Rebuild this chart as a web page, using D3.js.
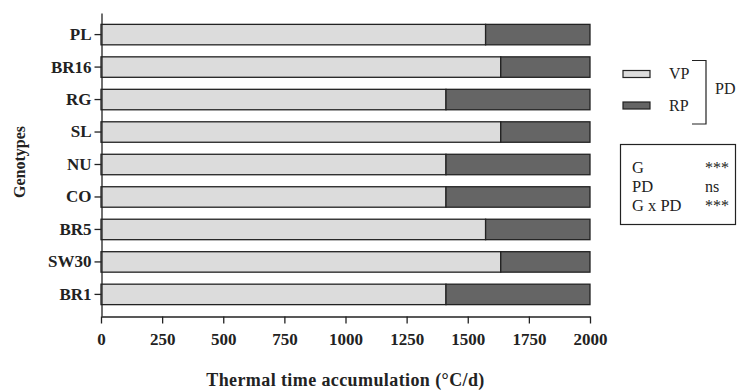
<!DOCTYPE html>
<html>
<head>
<meta charset="utf-8">
<script src="https://cdn.jsdelivr.net/npm/d3@7"></script>
<style>
  body { margin: 0; background: #fff; }
  text { font-family: "Liberation Serif", "Times New Roman", serif; }
</style>
</head>
<body>
<div id="chart"></div>
<script>
// genotypes, top to bottom
const genotypes = ['PL', 'BR16', 'RG', 'SL', 'NU', 'CO', 'BR5', 'SW30', 'BR1'];
// vegetative phase (°C/d)
const vpValues = [1573, 1635, 1411, 1635, 1411, 1411, 1573, 1635, 1411];
// reproductive phase (°C/d)
const rpValues = [427, 365, 589, 365, 589, 589, 427, 365, 589];
const xTicks = [0, 250, 500, 750, 1000, 1250, 1500, 1750, 2000];
const statLabels = ['G', 'PD', 'G x PD'];
const statValues = ['***', 'ns', '***'];

const width = 738, height = 391;
const margin = { top: 13, left: 101, right: 148, bottom: 75 };

const svg = d3.select('#chart').append('svg')
  .attr('width', width).attr('height', height);

const x = d3.scaleLinear()
  .domain([0, 2000])
  .range([margin.left, width - margin.right]);
const y = d3.scaleBand()
  .domain(genotypes)
  .range([margin.top, height - margin.bottom])
  .paddingInner(0.37)
  .paddingOuter(0.35);

const rows = genotypes.map((g, i) => ({ g: g, vp: vpValues[i], rp: rpValues[i] }));

// bars
const bar = svg.selectAll('.bar')
  .data(rows)
  .enter().append('g').attr('class', 'bar');

bar.append('rect')
  .attr('x', x(0))
  .attr('y', d => y(d.g))
  .attr('width', d => x(d.vp) - x(0))
  .attr('height', y.bandwidth())
  .attr('fill', '#dcdcdc')
  .attr('stroke', '#222')
  .attr('stroke-width', 1.3);

bar.append('rect')
  .attr('x', d => x(d.vp))
  .attr('y', d => y(d.g))
  .attr('width', d => x(d.vp + d.rp) - x(d.vp))
  .attr('height', y.bandwidth())
  .attr('fill', '#656565')
  .attr('stroke', '#222')
  .attr('stroke-width', 1.3);

// x axis
const xAxis = svg.append('g')
  .attr('transform', 'translate(0,' + (height - margin.bottom + 0.5) + ')')
  .call(d3.axisBottom(x).tickValues(xTicks).tickFormat(d3.format('d')).tickSize(7).tickSizeOuter(0));

// y axis
const yAxis = svg.append('g')
  .attr('transform', 'translate(' + (margin.left + 0.5) + ',0)')
  .call(d3.axisLeft(y).tickSize(7).tickSizeOuter(0));

[xAxis, yAxis].forEach(a => {
  a.select('.domain').attr('stroke', '#222').attr('stroke-width', 1.3);
  a.selectAll('.tick line').attr('stroke', '#222').attr('stroke-width', 1.3);
  a.selectAll('.tick text')
    .attr('fill', '#222')
    .style('font-family', '"Liberation Serif", serif')
    .style('font-weight', 'bold')
    .style('font-size', '17px');
});
xAxis.selectAll('.tick text').attr('dy', '1.1em');
yAxis.selectAll('.tick text').attr('x', -10);

// axis titles
svg.append('text')
  .attr('x', (x(0) + x(2000)) / 2)
  .attr('y', 386)
  .attr('text-anchor', 'middle')
  .attr('font-weight', 'bold')
  .attr('font-size', '18px')
  .attr('letter-spacing', '0.4px')
  .attr('fill', '#222')
  .text('Thermal time accumulation (°C/d)');

svg.append('text')
  .attr('transform', 'translate(25,162) rotate(-90)')
  .attr('text-anchor', 'middle')
  .attr('font-weight', 'bold')
  .attr('font-size', '16px')
  .attr('fill', '#222')
  .text('Genotypes');

// legend
const legend = [{ k: 'VP', c: '#dcdcdc', y: 74 }, { k: 'RP', c: '#656565', y: 105.5 }];
const lg = svg.append('g');
lg.selectAll('rect')
  .data(legend)
  .enter().append('rect')
  .attr('x', 623).attr('y', d => d.y - 3.5)
  .attr('width', 27).attr('height', 7)
  .attr('fill', d => d.c)
  .attr('stroke', '#222').attr('stroke-width', 1.2);
lg.selectAll('text')
  .data(legend)
  .enter().append('text')
  .attr('x', 669).attr('y', d => d.y + 5)
  .attr('font-size', '16px').attr('fill', '#222')
  .text(d => d.k);
lg.append('path')
  .attr('d', 'M692,60.5H706V124H692')
  .attr('fill', 'none').attr('stroke', '#222').attr('stroke-width', 1.2);
lg.append('text')
  .attr('x', 715).attr('y', 94)
  .attr('font-size', '16px').attr('fill', '#222')
  .text('PD');

// stats box
const sb = svg.append('g');
sb.append('rect')
  .attr('x', 620.5).attr('y', 144.5)
  .attr('width', 115).attr('height', 80)
  .attr('fill', 'none').attr('stroke', '#222').attr('stroke-width', 1.2);
sb.selectAll('.lab')
  .data(statLabels)
  .enter().append('text')
  .attr('x', 632).attr('y', (d, i) => 173 + i * 19)
  .attr('font-size', '16.5px').attr('fill', '#222')
  .text(d => d);
sb.selectAll('.val')
  .data(statValues)
  .enter().append('text')
  .attr('x', 705).attr('y', (d, i) => 173 + i * 19)
  .attr('font-size', '16px').attr('fill', '#222')
  .text(d => d);
</script>
</body>
</html>
